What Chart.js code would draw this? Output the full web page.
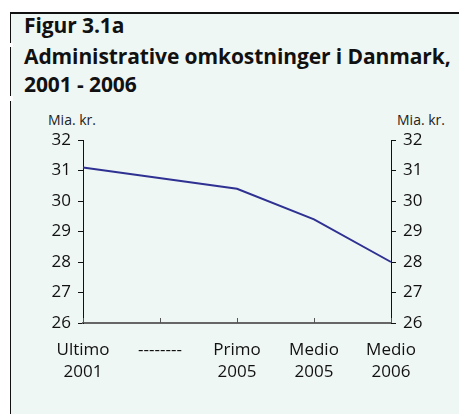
<!DOCTYPE html>
<html>
<head>
<meta charset="utf-8">
<script src="https://cdn.jsdelivr.net/npm/chart.js@4"></script>
<style>
  body { margin: 0; background: #fff; font-family: "Open Sans", sans-serif; }
  #wrap { position: relative; width: 459px; height: 414px; overflow: hidden; }
  #panel {
    position: absolute; left: 10px; top: 12px; width: 449px; height: 402px;
    background: #eff7f4; border-top: 2px solid #111; border-left: 1.5px solid #111;
  }
  .gap { position: absolute; left: 9px; width: 4px; background: #fff; }
  .title { position: absolute; left: 24px; font-weight: bold; color: #111; font-size: 21px; white-space: nowrap; letter-spacing: -0.1px; }
  .unit { position: absolute; top: 110px; font-size: 14px; color: #222; }
  canvas { position: absolute; left: 0; top: 0; }
</style>
</head>
<body>
<div id="wrap">
  <div id="panel"></div>
  <div class="gap" style="top:43px;height:4px"></div>
  <div class="gap" style="top:96px;height:5px"></div>
  <div class="title" style="top:11px">Figur 3.1a</div>
  <div class="title" style="top:42px">Administrative omkostninger i Danmark,</div>
  <div class="title" style="top:70px">2001 - 2006</div>
  <div class="unit" style="left:48px">Mia. kr.</div>
  <div class="unit" style="right:14px">Mia. kr.</div>
  <canvas id="chart" width="459" height="414"></canvas>
</div>
<script>
// Data
const categories = [["Ultimo", "2001"], "--------", ["Primo", "2005"], ["Medio", "2005"], ["Medio", "2006"]];
const values = [31.1, null, 30.4, 29.4, 28.0];
const yMin = 26;
const yMax = 32;

const tickFont = { family: "Open Sans", size: 17, lineHeight: 1.25 };

// small upward ticks on the x axis
const xTicksPlugin = {
  id: "xTicks",
  afterDraw(chart) {
    const x = chart.scales.x;
    const ctx = chart.ctx;
    ctx.save();
    ctx.strokeStyle = "#555";
    ctx.lineWidth = 1;
    x.ticks.forEach((t, i) => {
      const px = Math.round(x.getPixelForTick(i)) + 0.5;
      ctx.beginPath();
      ctx.moveTo(px, x.top);
      ctx.lineTo(px, x.top - 5);
      ctx.stroke();
    });
    ctx.restore();
  },
};

const yAxis = (pos, w) => ({
  type: "linear",
  position: pos,
  min: yMin,
  max: yMax,
  afterFit(scale) { scale.width = w; },
  ticks: { stepSize: 1, color: "#111", font: tickFont, padding: 7 },
  grid: { drawOnChartArea: false, tickLength: 5, color: "#111" },
  border: { color: "#111", width: 1 },
});

new Chart(document.getElementById("chart"), {
  type: "line",
  data: {
    labels: categories,
    datasets: [
      {
        data: values,
        borderColor: "#2e3192",
        borderWidth: 2,
        pointRadius: 0,
        tension: 0,
        spanGaps: true,
        yAxisID: "y",
      },
    ],
  },
  options: {
    responsive: false,
    animation: false,
    layout: { padding: { top: 140, left: 0, right: 0, bottom: 0 } },
    plugins: { legend: { display: false }, tooltip: { enabled: false } },
    scales: {
      x: {
        offset: false,
        afterFit(scale) { scale.height = 91; },
        ticks: { color: "#111", font: tickFont, padding: 17, maxRotation: 0, autoSkip: false },
        grid: { drawOnChartArea: false, drawTicks: false },
        border: { color: "#666", width: 2 },
      },
      y: yAxis("left", 83),
      y2: yAxis("right", 68),
    },
  },
  plugins: [xTicksPlugin],
});
</script>
</body>
</html>
